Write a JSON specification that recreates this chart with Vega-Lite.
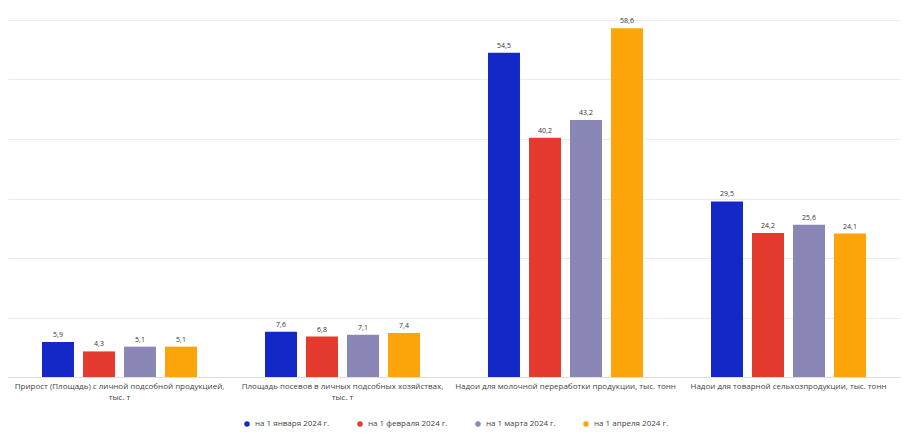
{
  "$schema": "https://vega.github.io/schema/vega-lite/v6.json",
  "autosize": "none",
  "width": 892,
  "height": 357,
  "padding": {"left": 8, "top": 20, "right": 3, "bottom": 59},
  "background": "#ffffff",
  "config": {
    "font": "Open Sans",
    "view": {"stroke": null},
    "locale": {"number": {"decimal": ",", "thousands": " ", "grouping": [3], "currency": ["", ""]}}
  },
  "data": {
    "values": [
      {"cat": "Прирост (Площадь) с личной подсобной продукцией,|тыс. т", "series": "на 1 января 2024 г.", "v": 5.9},
      {"cat": "Прирост (Площадь) с личной подсобной продукцией,|тыс. т", "series": "на 1 февраля 2024 г.", "v": 4.3},
      {"cat": "Прирост (Площадь) с личной подсобной продукцией,|тыс. т", "series": "на 1 марта 2024 г.", "v": 5.1},
      {"cat": "Прирост (Площадь) с личной подсобной продукцией,|тыс. т", "series": "на 1 апреля 2024 г.", "v": 5.1},
      {"cat": "Площадь посевов в личных подсобных хозяйствах,|тыс. т", "series": "на 1 января 2024 г.", "v": 7.6},
      {"cat": "Площадь посевов в личных подсобных хозяйствах,|тыс. т", "series": "на 1 февраля 2024 г.", "v": 6.8},
      {"cat": "Площадь посевов в личных подсобных хозяйствах,|тыс. т", "series": "на 1 марта 2024 г.", "v": 7.1},
      {"cat": "Площадь посевов в личных подсобных хозяйствах,|тыс. т", "series": "на 1 апреля 2024 г.", "v": 7.4},
      {"cat": "Надои для молочной переработки продукции, тыс. тонн", "series": "на 1 января 2024 г.", "v": 54.5},
      {"cat": "Надои для молочной переработки продукции, тыс. тонн", "series": "на 1 февраля 2024 г.", "v": 40.2},
      {"cat": "Надои для молочной переработки продукции, тыс. тонн", "series": "на 1 марта 2024 г.", "v": 43.2},
      {"cat": "Надои для молочной переработки продукции, тыс. тонн", "series": "на 1 апреля 2024 г.", "v": 58.6},
      {"cat": "Надои для товарной сельхозпродукции, тыс. тонн", "series": "на 1 января 2024 г.", "v": 29.5},
      {"cat": "Надои для товарной сельхозпродукции, тыс. тонн", "series": "на 1 февраля 2024 г.", "v": 24.2},
      {"cat": "Надои для товарной сельхозпродукции, тыс. тонн", "series": "на 1 марта 2024 г.", "v": 25.6},
      {"cat": "Надои для товарной сельхозпродукции, тыс. тонн", "series": "на 1 апреля 2024 г.", "v": 24.1}
    ]
  },
  "encoding": {
    "x": {
      "field": "cat", "type": "nominal", "sort": null, "title": null,
      "scale": {"paddingInner": 0.305, "paddingOuter": 0.1525},
      "axis": {
        "labelAngle": 0, "labelFontSize": 8, "labelColor": "#444444",
        "labelExpr": "split(datum.label, '|')", "labelLimit": 260,
        "domain": true, "domainColor": "#dddddd", "ticks": false, "labelPadding": 5, "labelLineHeight": 11
      }
    },
    "xOffset": {"field": "series", "type": "nominal", "sort": null, "scale": {"paddingInner": 0.22, "paddingOuter": 0}},
    "y": {
      "field": "v", "type": "quantitative", "title": null,
      "scale": {"domain": [0, 60], "nice": false},
      "axis": {"values": [0, 10, 20, 30, 40, 50, 60], "labels": false, "ticks": false, "domain": false, "gridColor": "#ebebeb", "gridWidth": 1}
    }
  },
  "layer": [
    {
      "mark": {"type": "bar"},
      "encoding": {
        "color": {
          "field": "series", "type": "nominal", "sort": null, "title": null,
          "scale": {"domain": ["на 1 января 2024 г.", "на 1 февраля 2024 г.", "на 1 марта 2024 г.", "на 1 апреля 2024 г."], "range": ["#1428c8", "#e53a2e", "#8a86b5", "#fca50a"]},
          "legend": {"orient": "none", "legendX": 235, "legendY": 400, "direction": "horizontal", "symbolType": "circle", "symbolSize": 30, "labelFontSize": 8, "labelColor": "#444444", "columnPadding": 26}
        }
      }
    },
    {
      "mark": {"type": "text", "dy": -7, "fontSize": 7, "fill": "#333333"},
      "encoding": {"text": {"field": "v", "type": "quantitative", "format": ".1f"}}
    }
  ]
}
